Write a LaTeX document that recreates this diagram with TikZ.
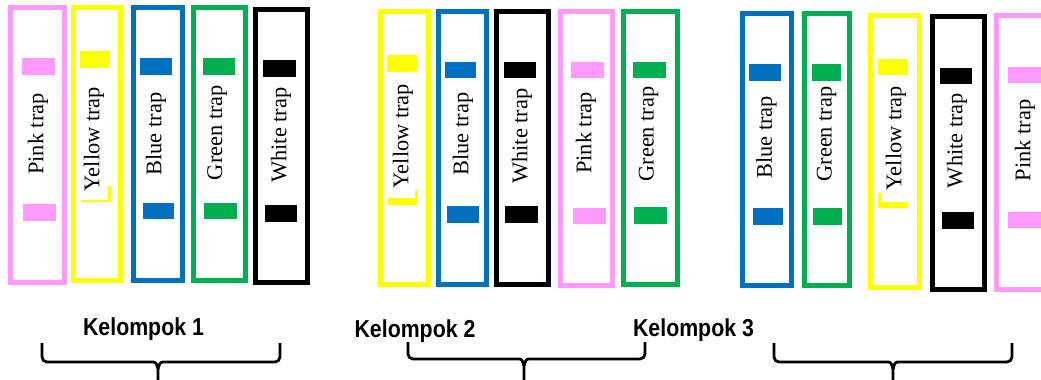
\documentclass[tikz,border=0pt]{standalone}
\usepackage{fontspec}
\setmainfont{Liberation Serif}
\newfontfamily\grpfont{Liberation Sans}
\definecolor{pinkT}{HTML}{FF99FF}
\definecolor{yellowT}{HTML}{FFFF00}
\definecolor{blueT}{HTML}{0070C0}
\definecolor{greenT}{HTML}{00B050}
\definecolor{blackT}{HTML}{000000}
\begin{document}
\begin{tikzpicture}[x=1pt,y=-1pt,
  trapbox/.style={line width=5pt},
  traplabel/.style={rotate=90,inner sep=0pt,font=\fontsize{22.4}{26}\selectfont},
  grouplabel/.style={anchor=base,inner sep=0pt,xscale=0.87,font=\grpfont\bfseries\fontsize{24.5}{28}\selectfont},
  bracepath/.style={line width=2.8pt,line join=round}]
\useasboundingbox (0,0) rectangle (1041,380);
\clip (0,0) rectangle (1041,380);
\fill[white] (0,0) rectangle (1041,380);

% trap frames
\foreach \c/\xa/\ya/\xb/\yb in {
  pinkT/10.5/7.5/64.5/282.5, yellowT/73.5/7.5/120.5/280.5, blueT/133.5/7.5/182.5/280.5,
  greenT/193.5/7.5/245.5/280.5, blackT/255.5/9.5/307.5/282.5,
  yellowT/380.5/11.5/428.5/284.5, blueT/438.5/11.5/486.5/284.5, blackT/496.5/11.5/548.5/284.5,
  pinkT/560.5/11.5/612.5/285.5, greenT/623.5/11.5/677.5/284.5,
  blueT/742.5/13.5/791.5/285.5, greenT/804.5/13.5/849.5/285.5, yellowT/870.5/15.5/919.5/287.5,
  blackT/932.5/16.5/984.5/289.5, pinkT/996.5/15.5/1048.5/289.5}
  \draw[trapbox,draw=\c] (\xa,\ya) rectangle (\xb,\yb);

% markers
\foreach \c/\xa/\ya/\xb/\yb in {
  pinkT/22/58/55/75, pinkT/23/204/56/221, yellowT/80/51/110/68,
  blueT/140/58/172/75, blueT/143/203/174/219, greenT/203/58/235/75, greenT/204/203/237/219,
  blackT/263/60/296/77, blackT/265/205/297/222,
  yellowT/387/55/417/72, blueT/445/62/476/78, blueT/447/206/479/223,
  blackT/504/62/536/78, blackT/505/206/538/223, pinkT/571/62/604/78, pinkT/573/208/606/224,
  greenT/633/62/666/78, greenT/634/207/667/224,
  blueT/749/64/781/81, blueT/753/208/783/225, greenT/812/64/841/81, greenT/813/208/842/225,
  yellowT/878/59/908/75, blackT/940/68/972/84, blackT/942/212/974/229,
  pinkT/1008/67/1045/83, pinkT/1008/212/1045/228}
  \fill[\c] (\xa,\ya) rectangle (\xb,\yb);

% partly hidden yellow markers
\fill[yellowT] (108,186) rectangle (111,202) (81,200) rectangle (111,202);
\fill[yellowT] (415,190) rectangle (418,205) (388,198) rectangle (418,205);
\fill[yellowT] (878,193) rectangle (881,208) (878,202) rectangle (908,208);

% trap labels
\node[traplabel] (g1a) at (38,134) {Pink trap};
\node[traplabel] (g1b) at (94,139) {Yellow trap};
\node[traplabel] (g1c) at (156,134) {Blue trap};
\node[traplabel] (g1d) at (217,132.5) {Green trap};
\node[traplabel] (g1e) at (281,135) {White trap};
\node[traplabel] (g2a) at (403,136) {Yellow trap};
\node[traplabel] (g2b) at (463,134) {Blue trap};
\node[traplabel] (g2c) at (522,136) {White trap};
\node[traplabel] (g2d) at (586,133) {Pink trap};
\node[traplabel] (g2e) at (648.5,134) {Green trap};
\node[traplabel] (g3a) at (766.5,137.5) {Blue trap};
\node[traplabel] (g3b) at (826.5,134) {Green trap};
\node[traplabel] (g3c) at (896,138) {Yellow trap};
\node[traplabel] (g3d) at (957,140.5) {White trap};
\node[traplabel] (g3e) at (1025,140.5) {Pink trap};

% group labels
\node[grouplabel] (k1) at (143.5,335) {Kelompok 1};
\node[grouplabel] (k2) at (415,337) {Kelompok 2};
\node[grouplabel] (k3) at (693.5,336) {Kelompok 3};

% braces
\foreach \n/\l/\r/\t/\h/\m in {b1/42/280/343/362/158, b2/408/645/342/359/524, b3/774/1012/343/362/893}{
  \coordinate (\n L) at (\l,\t);
  \coordinate (\n R) at (\r,\t);
  \coordinate (\n T) at (\m,385);
  \draw[bracepath] (\n L) -- (\l,\h-5) to[out=-90,in=180] (\l+5,\h) -- (\m-7,\h)
    .. controls (\m-2,\h) .. (\m,\h+7) -- (\n T);
  \draw[bracepath] (\n R) -- (\r,\h-5) to[out=-90,in=0] (\r-5,\h) -- (\m+7,\h)
    .. controls (\m+2,\h) .. (\m,\h+7);
}
\end{tikzpicture}
\end{document}
